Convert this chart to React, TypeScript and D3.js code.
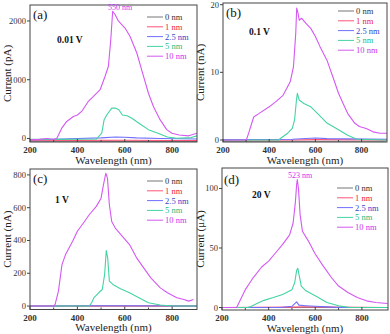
import React from 'react';
import * as d3 from 'd3';

type Pt = [number, number];

const legendNames = ['0 nm', '1 nm', '2.5 nm', '5 nm', '10 nm'];
const lineColors = ['#777777', '#ff5577', '#7070ff', '#44d4a0', '#d458f2'];
const textColors = ['#333333', '#ee2244', '#3344cc', '#22bb88', '#cc33ee'];

// (a) 0.01 V, pA
const a0: Pt[] = [[200, -45], [400, -48], [600, -50], [800, -50], [905, -50]];
const a1: Pt[] = [[200, -30], [400, -32], [600, -30], [800, -35], [905, -35]];
const a25: Pt[] = [[200, -20], [300, -15], [400, 0], [500, 10], [560, 25], [600, 20], [650, 10], [750, 0], [905, -10]];
const a5: Pt[] = [[200, -15], [300, -15], [480, -10], [503, 90], [513, 320], [524, 400], [545, 517], [560, 520], [575, 490], [590, 400], [610, 386], [630, 345], [660, 260], [700, 150], [740, 90], [780, 25], [820, 5], [880, 15], [905, 45]];
const a10: Pt[] = [[200, -20], [240, -15], [270, 0], [300, -15], [313, 0], [334, 175], [355, 290], [383, 375], [400, 400], [418, 460], [446, 630], [468, 715], [496, 830], [517, 1060], [531, 1230], [541, 1680], [549, 2165], [559, 2110], [573, 2000], [601, 1880], [622, 1740], [651, 1455], [679, 1060], [700, 770], [721, 545], [749, 320], [777, 150], [799, 90], [830, 60], [870, 45], [905, 90]];

// (b) 0.1 V, nA
const b0: Pt[] = [[200, -0.2], [905, -0.2]];
const b1: Pt[] = [[200, 0], [500, 0], [600, 0.05], [910, 0]];
const b25: Pt[] = [[200, 0.05], [500, 0.1], [600, 0.3], [650, 0.2], [910, 0.1]];
const b5: Pt[] = [[200, 0], [440, 0], [450, 0.25], [480, 1.0], [500, 1.7], [510, 3.0], [518, 5.9], [522, 6.9], [530, 5.9], [550, 5.4], [580, 4.9], [610, 3.9], [650, 2.5], [700, 1.5], [740, 0.7], [780, 0.1], [910, 0]];
const b10: Pt[] = [[200, 0], [301, 0], [311, 1.0], [333, 3.4], [355, 3.9], [400, 4.9], [430, 5.7], [460, 6.6], [491, 8.6], [505, 10.8], [515, 15.8], [519, 19.5], [525, 18.7], [530, 17.7], [540, 18.0], [560, 17.2], [580, 16.5], [600, 15.3], [620, 13.8], [650, 11.8], [680, 8.9], [700, 6.9], [720, 5.4], [740, 3.9], [770, 2.5], [790, 2.0], [820, 1.7], [850, 1.2], [880, 1.0], [910, 1.0]];

// (c) 1 V, nA
const c0: Pt[] = [[200, 0], [905, 0]];
const c1: Pt[] = [[200, 0], [905, 0]];
const c25: Pt[] = [[200, 0], [500, 2], [600, 2], [905, 0]];
const c5: Pt[] = [[200, 0], [450, 0], [460, 20], [470, 51], [490, 81], [505, 101], [515, 192], [522, 338], [528, 294], [535, 152], [550, 132], [580, 107], [620, 81], [660, 51], [700, 20], [750, 6], [800, 0], [905, 0]];
const c10: Pt[] = [[200, 0], [300, 0], [306, 10], [320, 91], [335, 253], [350, 314], [380, 395], [400, 456], [430, 516], [450, 557], [480, 608], [500, 658], [510, 739], [520, 810], [527, 780], [535, 618], [545, 516], [560, 476], [590, 425], [620, 375], [650, 294], [680, 233], [710, 172], [750, 111], [780, 81], [820, 51], [850, 40], [870, 30], [890, 40]];

// (d) 20 V, μA
const d0: Pt[] = [[200, 0], [910, 0]];
const d1: Pt[] = [[200, 0], [500, 0.3], [560, 0.6], [910, 0]];
const d25: Pt[] = [[200, 0], [450, 0], [500, 1], [520, 4.7], [530, 2], [560, 1.5], [600, 1], [650, 0.5], [700, 0], [910, 0]];
const d5: Pt[] = [[200, 0], [310, 0], [320, 0.5], [350, 3.4], [380, 6], [420, 8.4], [460, 11], [500, 15], [512, 21], [520, 31], [525, 33], [530, 28], [540, 18], [560, 14], [600, 9.8], [650, 4.2], [700, 1.4], [750, 0], [910, 0]];
const d10: Pt[] = [[200, 0], [260, 0], [264, 0.5], [280, 7], [300, 15], [330, 24], [370, 34], [400, 39], [430, 46], [460, 53], [490, 61], [505, 71], [515, 89], [520, 103], [523, 107.5], [528, 100], [535, 78], [545, 64], [570, 56], [600, 45], [630, 36], [670, 25], [700, 18], [740, 12.6], [780, 8.4], [820, 5.6], [860, 4.2], [910, 3.4]];

const xTicks = [200, 400, 600, 800];
const xMinor = [300, 500, 700];

interface PanelProps {
  left: number; right: number; top: number; bottom: number;
  xDomain: [number, number]; yDomain: [number, number];
  yTicks: number[]; yLabel: string; yLabelX: number;
  series: Pt[][];
  tag: string; tagPos: [number, number];
  volt: string; voltPos: [number, number];
  legendX: number; legendY: number;
  peak?: string; peakPos?: [number, number];
}

const FONT = 'Liberation Serif, Times New Roman, serif';

const Panel = (p: PanelProps) => {
  const x = d3.scaleLinear().domain(p.xDomain).range([p.left, p.right]);
  const y = d3.scaleLinear().domain(p.yDomain).range([p.bottom, p.top]);
  const line = d3.line<Pt>().x(d => x(d[0])).y(d => y(d[1]));
  const clipId = 'clip' + p.tag.replace(/\W/g, '');
  return (
    <g>
      <clipPath id={clipId}>
        <rect x={p.left} y={p.top} width={p.right - p.left} height={p.bottom - p.top} />
      </clipPath>
      <g clipPath={`url(#${clipId})`}>
        {p.series.map((s, i) => (
          <path key={i} d={line(s) || ''} fill="none" stroke={lineColors[i]} strokeWidth={1.1} strokeLinejoin="round" />
        ))}
      </g>
      <rect x={p.left} y={p.top} width={p.right - p.left} height={p.bottom - p.top} fill="none" stroke="#444" strokeWidth={1} />
      {xTicks.map(t => (
        <g key={t}>
          <line x1={x(t)} x2={x(t)} y1={p.bottom} y2={p.bottom - 3} stroke="#444" />
          <text x={x(t)} y={p.bottom + 11} textAnchor="middle" fontSize={9} fontWeight="bold" fill="#333" fontFamily={FONT}>{t}</text>
        </g>
      ))}
      {xMinor.map(t => (
        <line key={t} x1={x(t)} x2={x(t)} y1={p.bottom} y2={p.bottom - 2} stroke="#444" />
      ))}
      {p.yTicks.map(t => (
        <g key={t}>
          <line x1={p.left} x2={p.left - 3} y1={y(t)} y2={y(t)} stroke="#444" />
          <text x={p.left - 4} y={y(t) + 3} textAnchor="end" fontSize={8.5} fill="#333" fontFamily={FONT}>{t}</text>
        </g>
      ))}
      <text x={(p.left + p.right) / 2} y={p.bottom + 21.5} textAnchor="middle" fontSize={11} fill="#222" fontFamily={FONT}>Wavelength (nm)</text>
      <text transform={`translate(${p.yLabelX},${(p.top + p.bottom) / 2}) rotate(-90)`} textAnchor="middle" fontSize={11} fill="#222" fontFamily={FONT}>{p.yLabel}</text>
      <text x={p.tagPos[0]} y={p.tagPos[1]} fontSize={13} fill="#111" fontFamily={FONT}>{p.tag}</text>
      <text x={p.voltPos[0]} y={p.voltPos[1]} fontSize={9.5} fontWeight="bold" fill="#111" fontFamily={FONT}>{p.volt}</text>
      {p.peak && p.peakPos && (
        <text x={p.peakPos[0]} y={p.peakPos[1]} textAnchor="middle" fontSize={8} fill="#cc33ee" fontFamily={FONT}>{p.peak}</text>
      )}
      {legendNames.map((n, i) => (
        <g key={n}>
          <line x1={p.legendX} x2={p.legendX + 16} y1={p.legendY + i * 9.8} y2={p.legendY + i * 9.8} stroke={lineColors[i]} strokeWidth={1} />
          <text x={p.legendX + 18} y={p.legendY + i * 9.8 + 3} fontSize={8.5} fill={textColors[i]} fontFamily={FONT}>{n}</text>
        </g>
      ))}
    </g>
  );
};

export default function App() {
  return (
    <svg width={390} height={334} style={{ position: 'absolute', left: 0, top: 0, background: '#fff' }}>
      <Panel left={30} right={197} top={5} bottom={142} xDomain={[200, 905]} yDomain={[-60, 2272]}
        yTicks={[0, 1000, 2000]} yLabel="Current (pA)" yLabelX={11}
        series={[a0, a1, a25, a5, a10]} tag="(a)" tagPos={[33, 19]} volt="0.01 V" voltPos={[57, 43]}
        legendX={147} legendY={17} peak="550 nm" peakPos={[120, 10]} />
      <Panel left={223} right={387} top={3} bottom={142} xDomain={[200, 910]} yDomain={[-0.3, 20.25]}
        yTicks={[0, 10, 20]} yLabel="Current (nA)" yLabelX={204}
        series={[b0, b1, b25, b5, b10]} tag="(b)" tagPos={[226, 17]} volt="0.1 V" voltPos={[249, 35]}
        legendX={338} legendY={11} />
      <Panel left={30} right={197} top={169} bottom={309.5} xDomain={[200, 905]} yDomain={[-21, 836]}
        yTicks={[0, 200, 400, 600, 800]} yLabel="Current (nA)" yLabelX={11}
        series={[c0, c1, c25, c5, c10]} tag="(c)" tagPos={[33, 183]} volt="1 V" voltPos={[55, 203]}
        legendX={147} legendY={181} />
      <Panel left={222} right={388} top={168} bottom={310} xDomain={[200, 912]} yDomain={[-2.1, 117.2]}
        yTicks={[0, 50, 100]} yLabel="Current (μA)" yLabelX={204}
        series={[d0, d1, d25, d5, d10]} tag="(d)" tagPos={[224, 184]} volt="20 V" voltPos={[252, 198]}
        legendX={337} legendY={188} peak="523 nm" peakPos={[300, 178]} />
    </svg>
  );
}
